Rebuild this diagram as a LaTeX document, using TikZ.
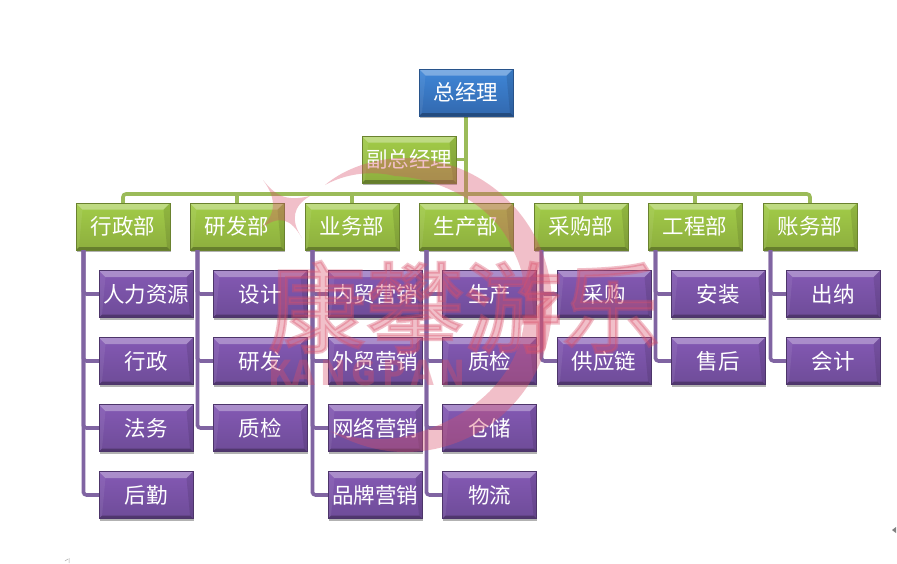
\documentclass[tikz,border=0pt]{standalone}
\usepackage{fontspec}
\setmainfont{Noto Sans CJK SC}
\newfontfamily\wmfont[FakeBold=3.2]{Noto Sans CJK SC}
\usetikzlibrary{shadows}
\definecolor{bluetop}{HTML}{3F87D8}
\definecolor{bluebot}{HTML}{3268AE}
\definecolor{greentop}{HTML}{A2CC48}
\definecolor{greenbot}{HTML}{8DAE3E}
\definecolor{purptop}{HTML}{8459B4}
\definecolor{purpbot}{HTML}{6E4C98}
\definecolor{greenline}{HTML}{9BBB59}
\definecolor{purpline}{HTML}{8064A2}
\definecolor{wmred}{HTML}{D9506A}
\tikzset{
  bevelbox/.style n args={3}{
    minimum width=94pt, minimum height=47pt, inner sep=0pt, anchor=center,
    top color=#1, bottom color=#2, draw=#3, line width=.4pt,
    text=white, font=\fontsize{21.5}{21.5}\selectfont,
    drop shadow={shadow xshift=0.8pt,shadow yshift=-2.4pt,opacity=.3,fill=black},
    path picture={
      \coordinate (sw) at (path picture bounding box.south west);
      \coordinate (ne) at (path picture bounding box.north east);
      \coordinate (nw) at (path picture bounding box.north west);
      \coordinate (se) at (path picture bounding box.south east);
      \fill[white,opacity=.32] (nw) -- (ne) -- ([shift={(-6.5pt,-6.5pt)}]ne) -- ([shift={(6.5pt,-6.5pt)}]nw) -- cycle;
      \fill[white,opacity=.07] (nw) -- (sw) -- ([shift={(3pt,3pt)}]sw) -- ([shift={(6.5pt,-6.5pt)}]nw) -- cycle;
      \fill[black,opacity=.10] (ne) -- (se) -- ([shift={(-3pt,3pt)}]se) -- ([shift={(-6.5pt,-6.5pt)}]ne) -- cycle;
      \fill[black,opacity=.28] (sw) -- (se) -- ([shift={(-3pt,3pt)}]se) -- ([shift={(3pt,3pt)}]sw) -- cycle;
    }},
  topbox/.style={bevelbox={bluetop}{bluebot}{bluebot!80!black}},
  deptbox/.style={bevelbox={greentop}{greenbot}{greenbot!75!black}},
  subbox/.style={bevelbox={purptop}{purpbot}{purpbot!70!black}},
  gline/.style={draw=greenline,line width=3.6pt},
  pline/.style={draw=purpline,line width=3.6pt,rounded corners=3pt},
}
\begin{document}
\begin{tikzpicture}[x=1pt,y=-1pt]
\useasboundingbox (0,0) rectangle (897,563);
\fill[white] (0,0) rectangle (897,563);
\coordinate (busL) at (123,194);
\coordinate (busR) at (810,194);
\coordinate (bus0) at (466,194);
\coordinate (dj) at (466,159.5);
\coordinate (gmS) at (466,116);
\draw[gline] (gmS) -- (bus0);
\draw[gline] (dj) -- (456,159.5);
\draw[gline,rounded corners=3pt] (123,203) |- (busR) -- (810,203);
\foreach \x in {237,352,466,581,695}{\draw[gline] (\x,203) -- (\x,194);}
\path (466,92.5) node[topbox] (gm) {总经理};
\path (409,159.5) node[deptbox] (vp) {副总经理};
\foreach \n/\x/\t in {a/123/行政部,b/237/研发部,c/352/业务部,d/466/生产部,e/581/采购部,f/695/工程部,g/810/账务部}{
  \path (\x,226.5) node[deptbox] (\n) {\t};
}
\foreach \p/\kids in {a/{1,2,3,4},b/{1,2,3},c/{1,2,3,4},d/{1,2,3,4},e/{1,2},f/{1,2},g/{1,2}}{
  \foreach \k in \kids{
    \draw[pline] ([xshift=-39.5pt]\p.south) |- ([xshift=-39.5pt,yshift={-(227+67*\k-226.5)*1pt}]\p.center -| \p.south) -- +(39.5+8,0);
  }
}
\foreach \n/\x/\y/\t in {
 a1/146/294/人力资源,a2/146/361/行政,a3/146/428/法务,a4/146/495/后勤,
 b1/260/294/设计,b2/260/361/研发,b3/260/428/质检,
 c1/375/294/内贸营销,c2/375/361/外贸营销,c3/375/428/网络营销,c4/375/495/品牌营销,
 d1/489.5/294/生产,d2/489.5/361/质检,d3/489.5/428/仓储,d4/489.5/495/物流,
 e1/604/294/采购,e2/604/361/供应链,
 f1/718/294/安装,f2/718/361/售后,
 g1/833/294/出纳,g2/833/361/会计}{
  \path (\x,\y) node[subbox] (\n) {\t};
}
% watermark
\begin{scope}[opacity=.36]
\fill[wmred]
  (325,185) .. controls (345,168) and (375,158) .. (405,158)
  .. controls (486,158) and (552,224) .. (552,305)
  .. controls (552,386) and (486,452) .. (405,452)
  .. controls (380,452) and (355,445) .. (330,431)
  .. controls (360,442) and (395,441) .. (417,433)
  .. controls (485,412) and (525,365) .. (525,308)
  .. controls (525,280) and (522,268) .. (513,250)
  .. controls (495,205) and (440,178) .. (395,176)
  .. controls (370,170) and (345,174) .. cycle;
\fill[wmred]
  (263,180) .. controls (275,195) and (285,202) .. (310,196)
  .. controls (293,206) and (290,220) .. (302,238)
  .. controls (290,218) and (280,215) .. (261,228)
  .. controls (275,215) and (278,200) .. cycle;
\node[font=\wmfont\fontsize{98}{98}\selectfont,text=wmred,anchor=center,inner sep=0pt] (wm) at (464,307) {康攀游乐};
\node[font=\fontsize{34}{34}\selectfont\bfseries,text=wmred,anchor=center,inner sep=0pt] (wm2) at (367,373) {KA\,N\,G\,P\,A\,N};
\end{scope}
% small marks at the page edges
\fill[gray] (892,530) -- (896,527) -- (896,533) -- cycle;
\draw[gray!70,line width=.5pt] (69,558) -- (69,563) (65,561) -- (68,559);
\end{tikzpicture}
\end{document}
